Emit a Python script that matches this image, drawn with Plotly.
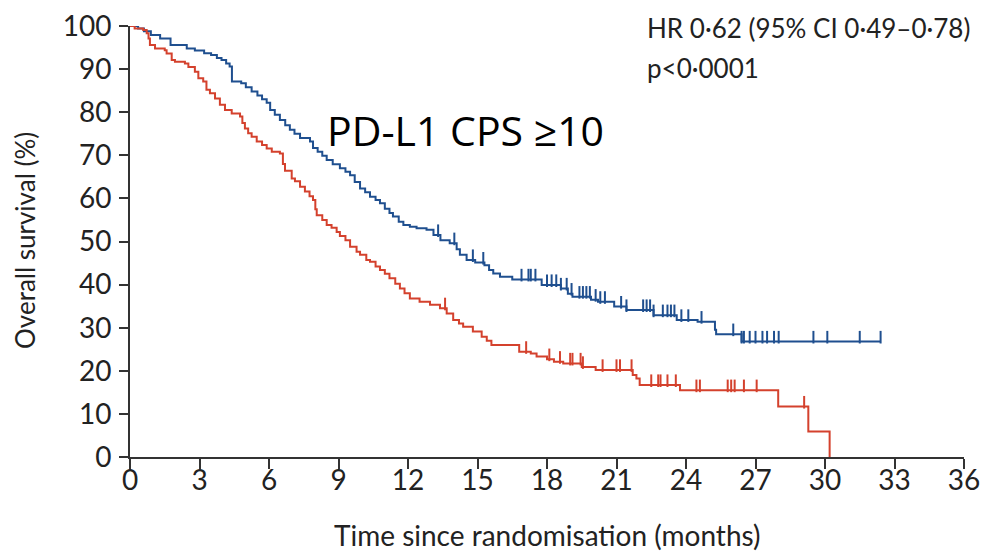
import plotly.graph_objects as go

# ---- data ----
blue_t = [0, 0.35, 0.6, 0.9, 1.3, 1.75, 2.45, 2.8, 3.2, 3.5, 3.75, 3.95, 4.15, 4.3, 4.4, 4.8, 5.0, 5.25,
          5.5, 5.7, 5.9, 6.05, 6.25, 6.47, 6.7, 6.9, 7.1, 7.34, 7.77, 7.9, 8.1, 8.3, 8.49, 8.75, 9.06,
          9.3, 9.5, 9.7, 9.93, 10.15, 10.36, 10.6, 10.79, 11.0, 11.2, 11.35, 11.6, 11.8, 12.08, 12.37,
          12.8, 13.1, 13.4, 13.8, 14.1, 14.24, 14.53, 14.9, 15.3, 15.5, 15.68, 15.97, 16.5, 17.77,
          18.6, 18.9, 19.1, 19.9, 20.2, 20.9, 21.43, 22.6, 23.6, 24.5, 25.25, 25.3, 26.4]
blue_s = [100, 99.4, 98.8, 97.9, 97.1, 95.6, 94.8, 94.3, 93.7, 93.3, 92.6, 92.1, 91.3, 90.6, 87.1, 86.7,
          85.8, 84.8, 83.9, 83.0, 82.2, 80.5, 79.4, 78.2, 77.0, 75.9, 75.0, 74.0, 73.2, 71.7, 70.8, 69.9,
          68.9, 67.9, 67.0, 66.2, 65.4, 63.8, 62.3, 61.4, 60.4, 59.6, 58.9, 57.6, 56.6, 55.8, 54.6, 53.8,
          53.4, 53.1, 52.7, 51.5, 50.3, 49.6, 48.2, 46.9, 45.7, 45.1, 44.5, 43.4, 42.6, 41.8, 41.2, 39.9,
          39.1, 37.9, 37.2, 36.5, 36.0, 34.9, 34.1, 32.9, 31.8, 31.4, 29.5, 28.5, 26.8]
blue_end = 32.4
blue_cens = [13.3, 14.0, 14.8, 15.25, 16.9, 17.2, 17.3, 17.5, 18.0, 18.2, 18.4, 18.6, 18.85, 19.06, 19.4,
             19.55, 19.7, 19.85, 20.1, 20.3, 20.5, 21.2, 21.43, 22.15, 22.3, 22.45, 22.6, 23.0, 23.2,
             23.35, 23.5, 23.8, 24.1, 24.67, 26.04, 26.4, 26.5, 26.75, 27.0, 27.3, 27.5, 27.8, 28.0,
             29.5, 30.1, 31.5, 32.4]

red_t = [0, 0.2, 0.57, 0.72, 0.8, 0.86, 1.08, 1.5, 1.58, 1.8, 1.94, 2.37, 2.52, 2.8, 2.95, 3.16, 3.3,
         3.45, 3.67, 3.88, 4.1, 4.39, 4.75, 4.85, 4.96, 5.1, 5.25, 5.47, 5.7, 5.9, 6.12, 6.47, 6.6, 6.69,
         6.98, 7.12, 7.34, 7.55, 7.75, 7.9, 8.0, 8.06, 8.3, 8.49, 8.7, 8.92, 9.06, 9.3, 9.5, 9.78, 9.93,
         10.2, 10.36, 10.6, 10.79, 11.0, 11.2, 11.45, 11.65, 11.85, 12.08, 12.5, 12.95, 13.38, 13.67,
         13.95, 14.2, 14.38, 14.8, 15.18, 15.4, 15.6, 16.8, 17.3, 17.55, 18.0, 18.3, 18.7, 19.5, 20.1,
         21.7, 21.86, 22.0, 23.74, 27.98, 29.28, 30.2]
red_s = [100, 99.4, 99.1, 98.3, 97.1, 95.6, 94.8, 94.4, 93.6, 92.1, 91.7, 91.3, 90.5, 89.4, 87.9, 87.1,
         85.2, 84.4, 83.2, 81.7, 80.5, 79.7, 79.0, 77.5, 76.2, 75.1, 74.3, 73.2, 72.4, 71.6, 70.8, 70.4,
         68.0, 66.4, 64.6, 64.0, 62.7, 61.6, 60.5, 59.6, 57.5, 56.1, 55.0, 53.8, 53.2, 52.2, 51.3, 50.3,
         48.8, 47.6, 46.9, 45.7, 45.3, 44.2, 43.4, 42.5, 41.5, 40.2, 39.1, 38.0, 36.8, 36.0, 35.3, 34.5,
         33.3, 31.8, 31.0, 30.2, 29.1, 27.9, 27.0, 26.0, 24.4, 24.0, 23.3, 22.7, 22.1, 21.7, 20.9, 20.2,
         19.0, 18.2, 16.7, 15.5, 11.7, 5.9, 0]
red_end = 30.2
red_cens = [13.6, 17.1, 18.1, 18.56, 19.0, 19.1, 19.45, 19.55, 20.4, 21.0, 21.15, 21.65, 22.5, 22.8,
            22.9, 23.2, 23.56, 24.45, 24.6, 25.8, 25.95, 26.1, 26.5, 27.05, 29.1]

x_ticks = list(range(0, 37, 3))
y_ticks = list(range(0, 101, 10))

BLUE = "#1f4f8f"
RED = "#d4412d"
AX = "#333333"
TXT = "#222222"
FONT = "Lato, 'Open Sans', sans-serif"


def surv_at(times, surv, t):
    s = surv[0]
    for ti, si in zip(times, surv):
        if ti <= t:
            s = si
        else:
            break
    return s


def curve(times, surv, end):
    xs = list(times)
    ys = list(surv)
    if end > xs[-1]:
        xs.append(end)
        ys.append(ys[-1])
    return xs, ys


fig = go.Figure()
for times, surv, end, cens, col in [(blue_t, blue_s, blue_end, blue_cens, BLUE),
                                     (red_t, red_s, red_end, red_cens, RED)]:
    xs, ys = curve(times, surv, end)
    fig.add_trace(go.Scatter(x=xs, y=ys, mode="lines", line=dict(color=col, width=2, shape="hv"),
                             showlegend=False, hoverinfo="skip"))
    cy = [surv_at(times, surv, t) + 1.0 for t in cens]
    fig.add_trace(go.Scatter(x=cens, y=cy, mode="markers",
                             marker=dict(symbol="line-ns", size=9, line=dict(color=col, width=2)),
                             showlegend=False, hoverinfo="skip", cliponaxis=False))

fig.update_layout(
    width=989, height=553,
    margin=dict(l=122, r=33, t=18, b=104, autoexpand=False),
    paper_bgcolor="white", plot_bgcolor="white",
    font=dict(family=FONT, color=TXT, size=24),
    xaxis=dict(range=[0, 36], tickvals=x_ticks, ticktext=[str(v) for v in x_ticks],
               showline=True, linecolor=AX, linewidth=2, ticks="outside", ticklen=10,
               tickwidth=2, tickcolor=AX, showgrid=False, zeroline=False, automargin=False,
               ticklabelstandoff=-13, ticklabeloverflow="allow",
               tickfont=dict(size=28, color=TXT, family=FONT)),
    yaxis=dict(range=[0, 100], tickvals=y_ticks, ticktext=[str(v) for v in y_ticks],
               showline=True, linecolor=AX, linewidth=2, ticks="outside", ticklen=9,
               tickwidth=2, tickcolor=AX, showgrid=False, zeroline=False, automargin=False,
               ticklabelstandoff=2, ticklabeloverflow="allow",
               tickfont=dict(size=28, color=TXT, family=FONT)),
    annotations=[
        dict(text="Time since randomisation (months)", xref="paper", yref="paper", x=0.5, y=-0.181,
             xanchor="center", yanchor="middle", showarrow=False,
             font=dict(size=28, color=TXT, family=FONT)),
        dict(text="Overall survival (%)", xref="paper", yref="paper", x=-0.126, y=0.5035,
             xanchor="center", yanchor="middle", textangle=-90, showarrow=False,
             font=dict(size=26, color=TXT, family=FONT)),
        dict(text="HR 0·62 (95% CI 0·49–0·78)", xref="paper", yref="paper", x=0.617, y=0.995,
             xanchor="left", yanchor="middle", showarrow=False,
             font=dict(size=26, color=TXT, family=FONT)),
        dict(text="p<0·0001", xref="paper", yref="paper", x=0.617, y=0.9026,
             xanchor="left", yanchor="middle", showarrow=False,
             font=dict(size=26, color=TXT, family=FONT)),
        dict(text="PD-L1 CPS ≥10", xref="x", yref="y", x=8.4, y=75.9,
             xanchor="left", yanchor="middle", showarrow=False,
             font=dict(size=41, color="#000000", family="'Open Sans', sans-serif")),
    ],
)

fig.write_html("out.html")
